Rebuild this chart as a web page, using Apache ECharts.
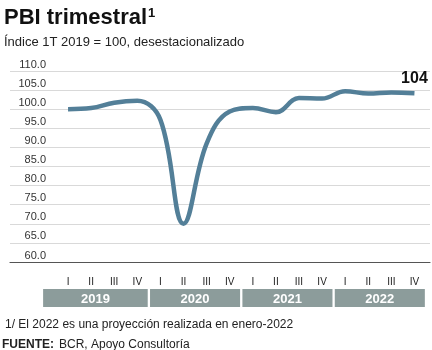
<!DOCTYPE html>
<html>
<head>
<meta charset="utf-8">
<script src="https://cdn.jsdelivr.net/npm/echarts@6/dist/echarts.min.js"></script>
<style>html,body{margin:0;padding:0;background:#fff}#c{width:432px;height:350px}</style>
</head>
<body>
<div id="c"></div>
<script>
var quarters = ['I','II','III','IV','I','II','III','IV','I','II','III','IV','I','II','III','IV'];
var years = ['2019','2020','2021','2022'];
var pbi = [100.0, 100.3, 101.7, 102.2, 97.2, 70.0, 91.0, 99.4, 100.3, 99.2, 102.9, 102.8, 104.7, 104.1, 104.4, 104.2];
var yTicks = {min: 60, max: 110, interval: 5};

var FONT = '"Liberation Sans", Arial, sans-serif';
var chart = echarts.init(document.getElementById('c'), null, {renderer: 'canvas'});

var lineData = pbi.map(function (v, i) {
  if (i === pbi.length - 1) {
    return {value: v, label: {show: true, position: 'top', distance: 7,
      formatter: function (p) { return String(Math.round(p.value)); },
      fontFamily: FONT, fontWeight: 'bold', fontSize: 16, color: '#111'}};
  }
  return v;
});

chart.setOption({
  animation: false,
  title: [
    {text: '{a|PBI trimestral}{b|1}', left: 4, top: 7, padding: 0,
      textStyle: {rich: {
        a: {fontFamily: FONT, fontWeight: 'bold', fontSize: 22, color: '#111', verticalAlign: 'bottom'},
        b: {fontFamily: FONT, fontWeight: 'bold', fontSize: 13, color: '#111', verticalAlign: 'top', padding: [0, 0, 8, 1]}
      }}},
    {text: 'Índice 1T 2019 = 100, desestacionalizado', left: 4, top: 36, padding: 0,
      textStyle: {fontFamily: FONT, fontWeight: 'normal', fontSize: 13, color: '#222'}},
    {text: '1/ El 2022 es una proyección realizada en enero-2022', left: 5, top: 319, padding: 0,
      textStyle: {fontFamily: FONT, fontWeight: 'normal', fontSize: 12, color: '#222'}},
    {text: '{b|FUENTE:} {n|BCR, Apoyo Consultoría}', left: 2, top: 336, padding: 0,
      textStyle: {rich: {
        b: {fontFamily: FONT, fontWeight: 'bold', fontSize: 12, color: '#222'},
        n: {fontFamily: FONT, fontWeight: 'normal', fontSize: 12, color: '#222'}
      }}}
  ],
  grid: [
    {left: 10, right: 2, top: 71, bottom: 88},
    {left: 56.5, right: 6, top: 71, bottom: 88},
    {left: 56.5, right: 6, top: 289, height: 18}
  ],
  xAxis: [
    {gridIndex: 0, type: 'value', min: 0, max: 1,
      axisLine: {show: true, lineStyle: {color: '#555', width: 1.2}},
      axisTick: {show: false}, axisLabel: {show: false}, splitLine: {show: false}},
    {gridIndex: 1, type: 'category', data: quarters, boundaryGap: true,
      axisLine: {show: false}, axisTick: {show: false},
      axisLabel: {show: true, interval: 0, margin: 15, fontFamily: FONT, fontSize: 10, color: '#222'}},
    {gridIndex: 2, type: 'value', min: -0.5, max: 15.5, show: false}
  ],
  yAxis: [
    {gridIndex: 0, type: 'value', min: yTicks.min, max: yTicks.max, interval: yTicks.interval,
      axisLine: {show: false}, axisTick: {show: false},
      axisLabel: {show: true, margin: -36, align: 'right', verticalAlign: 'bottom',
        padding: [0, 0, 1, 0], fontFamily: FONT, fontSize: 11, color: '#333',
        formatter: function (v) { return v.toFixed(1); }},
      splitLine: {show: true, lineStyle: {color: '#d9d9d9', width: 1}}},
    {gridIndex: 1, type: 'value', min: yTicks.min, max: yTicks.max, show: false},
    {gridIndex: 2, type: 'value', min: 0, max: 1, show: false}
  ],
  series: [
    {type: 'line', xAxisIndex: 1, yAxisIndex: 1, data: lineData,
      smooth: 0.4, showSymbol: true, symbol: 'circle', symbolSize: 0,
      lineStyle: {color: '#537f98', width: 4.5}, itemStyle: {color: '#537f98'},
      z: 5},
    {type: 'custom', xAxisIndex: 2, yAxisIndex: 2, clip: false,
      data: years.map(function (y, k) { return [k, y]; }),
      renderItem: function (params, api) {
        var k = api.value(0);
        var s = k === 0 ? -1.08 : k * 4 - 0.45;
        var e = k * 4 + 3.45;
        var p0 = api.coord([s, 1]);
        var p1 = api.coord([e, 0]);
        return {
          type: 'group',
          children: [
            {type: 'rect', shape: {x: p0[0], y: p0[1], width: p1[0] - p0[0], height: p1[1] - p0[1]},
              style: {fill: '#8c9c9b'}},
            {type: 'text', style: {x: (p0[0] + p1[0]) / 2, y: (p0[1] + p1[1]) / 2 + 1,
              text: years[k], align: 'center', verticalAlign: 'middle',
              fill: '#fff', font: 'bold 13px ' + FONT}}
          ]
        };
      }}
  ]
});
</script>
</body>
</html>
